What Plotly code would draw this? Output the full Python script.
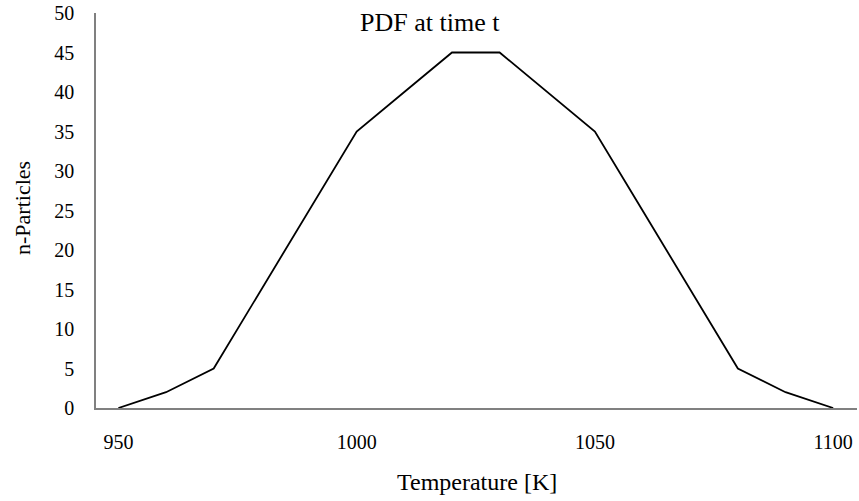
import plotly.graph_objects as go

temperature = [950, 960, 970, 980, 990, 1000, 1010, 1020, 1030, 1040, 1050, 1060, 1070, 1080, 1090, 1100]
n_particles = [0, 2, 5, 15, 25, 35, 40, 45, 45, 40, 35, 25, 15, 5, 2, 0]
x_ticks = [950, 1000, 1050, 1100]
y_ticks = [0, 5, 10, 15, 20, 25, 30, 35, 40, 45, 50]

FONT = "Liberation Serif, Times New Roman, serif"
L, R, T, B = 96, 857, 13, 408  # plot area edges in pixels


def px_x(x):
    return (x - L) / (R - L)


def px_y(y):
    return (B - y) / (B - T)


fig = go.Figure()
fig.add_trace(go.Scatter(
    x=temperature, y=n_particles, mode="lines",
    line=dict(color="black", width=1.8),
    showlegend=False, hoverinfo="x+y",
))

fig.update_layout(
    template="none",
    width=859, height=501,
    margin=dict(l=L, r=859 - R, t=T, b=501 - B, autoexpand=False),
    paper_bgcolor="white", plot_bgcolor="white",
    font=dict(family=FONT, color="black", size=20),
    annotations=[
        dict(text="PDF at time t", xref="paper", yref="paper",
             x=px_x(430), y=px_y(22), xanchor="center", yanchor="middle",
             showarrow=False, font=dict(family=FONT, size=26, color="black")),
        dict(text="Temperature [K]", xref="paper", yref="paper",
             x=px_x(477), y=px_y(482), xanchor="center", yanchor="middle",
             showarrow=False, font=dict(family=FONT, size=24, color="black")),
        dict(text="n-Particles", xref="paper", yref="paper",
             x=px_x(22), y=px_y(208), xanchor="center", yanchor="middle",
             textangle=-90, showarrow=False,
             font=dict(family=FONT, size=22, color="black")),
    ],
)
fig.update_xaxes(
    range=[945.3, 1105], tickvals=x_ticks, showgrid=False, zeroline=False,
    showline=True, linecolor="#808080", linewidth=1.5, automargin=False,
    ticks="", ticklabelstandoff=15,
    tickfont=dict(family=FONT, size=20, color="black"),
)
fig.update_yaxes(
    range=[0, 50], tickvals=y_ticks, showgrid=False, zeroline=False,
    showline=True, linecolor="#808080", linewidth=1.5, automargin=False,
    ticks="", ticklabelstandoff=16,
    tickfont=dict(family=FONT, size=20, color="black"),
)

fig.write_html("out.html", config={"displayModeBar": False},
               post_script="document.body.style.margin='0';")
